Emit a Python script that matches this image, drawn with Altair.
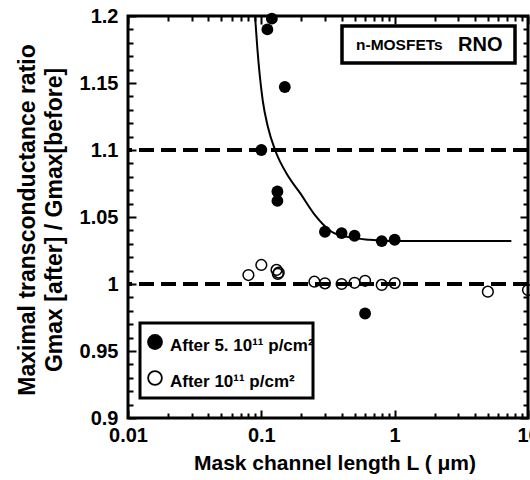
import altair as alt
import pandas as pd

# Measured data: maximal transconductance ratio vs mask channel length
filled_L = [0.1, 0.111, 0.12, 0.15, 0.132, 0.132, 0.3, 0.4, 0.5, 0.6, 0.8, 1.0]
filled_G = [1.100, 1.190, 1.198, 1.147, 1.069, 1.062, 1.039, 1.038, 1.036, 0.978, 1.032, 1.033]

open_L = [0.08, 0.1, 0.13, 0.135, 0.133, 0.25, 0.3, 0.4, 0.5, 0.6, 0.8, 1.0, 5.0, 10.0]
open_G = [1.0067, 1.0142, 1.0105, 1.0085, 1.0075, 1.0017, 1.0005, 1.0, 1.0009, 1.0024, 0.9993, 1.0007, 0.9943, 0.9955]

# Fitted trend through the 5.10^11 p/cm^2 data
fit_L = [0.0897, 0.0935, 0.1024, 0.1122, 0.1268, 0.16, 0.195, 0.25, 0.337, 0.45, 0.65, 1.0, 2.0, 4.0, 7.5]
fit_G = [1.200, 1.175, 1.137, 1.117, 1.100, 1.080, 1.068, 1.052, 1.039, 1.035, 1.033, 1.032, 1.032, 1.032, 1.032]

# Dashed reference levels
ref_levels = [1.1, 1.0]

# Axis limits and ticks (major ones are labelled)
x_domain = [0.01, 10]
y_domain = [0.9, 1.2]
x_labels = [0.01, 0.1, 1, 10]
x_minor = [m * d for d in (0.01, 0.1, 1) for m in range(2, 10)]
y_labels = [0.9, 0.95, 1.0, 1.05, 1.1, 1.15, 1.2]
y_minor = [round(0.9 + 0.01 * i, 2) for i in range(1, 30) if i % 5 != 0]

x_title = "Mask channel length L (  \u03bcm)"
y_title = ["Maximal transconductance ratio", "Gmax [after] / Gmax[before]"]
legend_labels = ["After 5. 10\u00b9\u00b9 p/cm\u00b2", "After 10\u00b9\u00b9 p/cm\u00b2"]
box_text = ["n-MOSFETs", "RNO"]

W, H = 400, 402
FONT = "Liberation Sans"
MAJ, MIN = 8, 5  # inward tick lengths

x_scale = alt.Scale(type="log", domain=x_domain, nice=False)
y_scale = alt.Scale(domain=y_domain, nice=False, zero=False)

x_major_test = "abs(log(datum.value) / LN10 - round(log(datum.value) / LN10)) < 0.001"
y_major_test = "abs(datum.value * 20 - round(datum.value * 20)) < 0.001"

# Grid lines dashed so that only a short piece at each frame edge shows:
# this gives the inward ticks on all four sides.
x_axis = alt.Axis(
    values=sorted(x_labels + x_minor), format="~g",
    labelExpr=f"{x_major_test} ? datum.label : ''",
    ticks=False, domain=False, grid=True, zindex=1,
    gridColor="black", gridOpacity=1, gridWidth=2,
    gridDash={"condition": {"test": x_major_test, "value": [MAJ, H - 2 * MAJ, MAJ, 1000]},
              "value": [MIN, H - 2 * MIN, MIN, 1000]},
    labelPadding=7, labelFlush=False, labelOverlap=False, title=None,
)
y_axis = alt.Axis(
    values=sorted(y_labels + y_minor), format="~g",
    labelExpr=f"{y_major_test} ? datum.label : ''",
    ticks=False, domain=False, grid=True, zindex=1,
    gridColor="black", gridOpacity=1, gridWidth=2,
    gridDash={"condition": {"test": y_major_test, "value": [MAJ, W - 2 * MAJ, MAJ, 1000]},
              "value": [MIN, W - 2 * MIN, MIN, 1000]},
    labelPadding=10, labelFlush=False, labelOverlap=False, title=None,
)


def X(field):
    return alt.X(f"{field}:Q", scale=x_scale, axis=x_axis)


def Y(field):
    return alt.Y(f"{field}:Q", scale=y_scale, axis=y_axis)


refs = alt.Chart(pd.DataFrame({"g": ref_levels})).mark_rule(
    color="black", strokeWidth=4, strokeDash=[15, 7]).encode(y=Y("g"))

fit = alt.Chart(pd.DataFrame({"L": fit_L, "G": fit_G})).mark_line(
    color="black", strokeWidth=2, interpolate="monotone").encode(x=X("L"), y=Y("G"))

filled = alt.Chart(pd.DataFrame({"L": filled_L, "G": filled_G})).mark_point(
    shape="circle", filled=True, color="black", opacity=1, size=140).encode(x=X("L"), y=Y("G"))

hollow = alt.Chart(pd.DataFrame({"L": open_L, "G": open_G})).mark_point(
    shape="circle", filled=False, color="black", opacity=1, size=115, strokeWidth=1.5).encode(x=X("L"), y=Y("G"))

one = pd.DataFrame({"k": [0]})


def label(text, x, y, size, align="left", baseline="alphabetic", angle=0):
    return alt.Chart(one).mark_text(
        text=text, font=FONT, fontWeight="bold", fontSize=size, align=align,
        baseline=baseline, angle=angle, color="black").encode(x=alt.value(x), y=alt.value(y))


# Axis titles
x_title_mark = label(x_title, 207, H + 46, 21, align="center", baseline="middle")
y_title_1 = label(y_title[0], -100, 204, 23, align="center", baseline="middle", angle=270)
y_title_2 = label(y_title[1], -73, 204, 23, align="center", baseline="middle", angle=270)

# Legend box (lower left)
leg_box = alt.Chart(one).mark_rect(fill="white", stroke="black", strokeWidth=3).encode(
    x=alt.value(12), x2=alt.value(185), y=alt.value(307), y2=alt.value(382))
leg_sym1 = alt.Chart(one).mark_point(shape="circle", filled=True, color="black", opacity=1, size=250).encode(
    x=alt.value(27), y=alt.value(326))
leg_sym2 = alt.Chart(one).mark_point(shape="circle", filled=False, color="black", opacity=1, size=190, strokeWidth=1.8).encode(
    x=alt.value(27), y=alt.value(362))
leg_txt1 = label(legend_labels[0], 42, 335, 17)
leg_txt2 = label(legend_labels[1], 42, 371, 17)

# Annotation box (upper right)
ann_box = alt.Chart(one).mark_rect(fill="white", stroke="black", strokeWidth=3.5).encode(
    x=alt.value(214), x2=alt.value(387), y=alt.value(10), y2=alt.value(47))
ann_txt1 = label(box_text[0], 228, 34, 15.5)
ann_txt2 = label(box_text[1], 330, 35, 20)

chart = alt.layer(
    refs, fit, filled, hollow,
    leg_box, leg_sym1, leg_sym2, leg_txt1, leg_txt2,
    ann_box, ann_txt1, ann_txt2,
    x_title_mark, y_title_1, y_title_2,
).properties(
    width=W, height=H,
    autosize=alt.AutoSizeParams(type="none"),
    padding={"left": 128, "top": 16, "right": 2, "bottom": 62},
    background="white",
).configure_view(
    stroke="black", strokeWidth=3
).configure_axis(
    labelFont=FONT, labelFontWeight="bold", labelFontSize=20, labelColor="black",
)

chart.save("out.html", embed_options={"renderer": "svg", "actions": False})
